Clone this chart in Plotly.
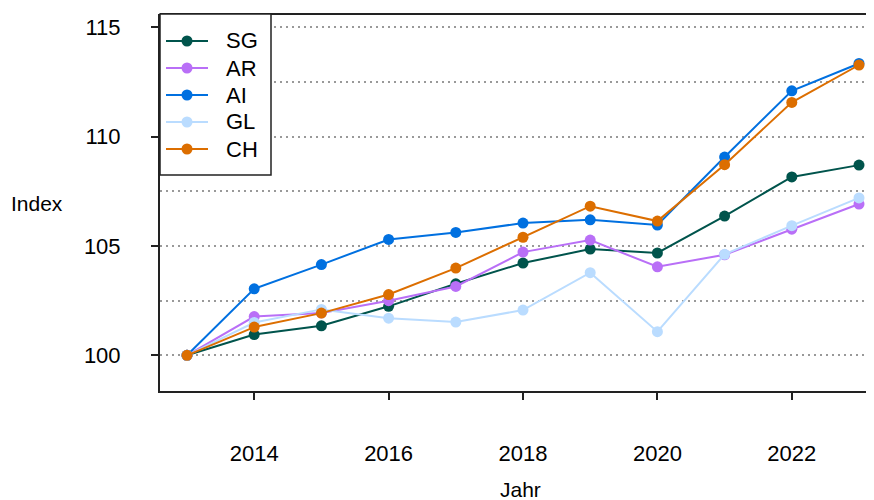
import plotly.graph_objects as go

years = [2013, 2014, 2015, 2016, 2017, 2018, 2019, 2020, 2021, 2022, 2023]
sg = [100, 100.95, 101.35, 102.24, 103.27, 104.22, 104.86, 104.68, 106.37, 108.16, 108.70]
ar = [100, 101.77, 101.94, 102.50, 103.15, 104.72, 105.27, 104.05, 104.60, 105.77, 106.92]
ai = [100, 103.04, 104.15, 105.30, 105.62, 106.05, 106.20, 105.96, 109.07, 112.10, 113.35]
gl = [100, 101.50, 102.10, 101.70, 101.52, 102.07, 103.78, 101.08, 104.62, 105.93, 107.20]
ch = [100, 101.29, 101.93, 102.78, 103.99, 105.40, 106.82, 106.14, 108.72, 111.57, 113.28]

series_names = ["SG", "AR", "AI", "GL", "CH"]
series_values = [sg, ar, ai, gl, ch]
series_colors = ["#00544C", "#B96FF7", "#0070E0", "#BADCFF", "#DC6E00"]

x_ticks = [2014, 2016, 2018, 2020, 2022]
y_ticks = [100, 105, 110, 115]

OFF = 8  # page body margin
W, H = 874, 500 - OFF
L, R, T = 160 - OFF, 0, 14 - OFF
B = H - (391 - OFF)
PW, PH = W - L - R, H - T - B
FONT = "Liberation Sans, Arial, sans-serif"
FS = 22

def px_x(px):
    return (px - OFF - L) / PW

def px_y(py):
    return (H - B - (py - OFF)) / PH

fig = go.Figure()
for name, vals, col in zip(series_names, series_values, series_colors):
    fig.add_trace(go.Scatter(
        x=years, y=vals, name=name, mode="lines+markers",
        line=dict(color=col, width=2),
        marker=dict(color=col, size=11),
        showlegend=False,
    ))

shapes = []
shapes.append(dict(type="line", xref="paper", yref="paper", x0=0, x1=1, y0=1, y1=1,
                   line=dict(color="#222", width=2)))
shapes.append(dict(type="rect", xref="paper", yref="paper",
                   x0=0, x1=px_x(271), y0=px_y(175), y1=1,
                   fillcolor="white", line=dict(color="#222", width=1.5), layer="above"))
annotations = []
leg_y0, leg_dy = 41, 27
for i, (name, col) in enumerate(zip(series_names, series_colors)):
    yc = px_y(leg_y0 + i * leg_dy)
    shapes.append(dict(type="line", xref="paper", yref="paper",
                       x0=px_x(166), x1=px_x(208), y0=yc, y1=yc,
                       line=dict(color=col, width=2), layer="above"))
    shapes.append(dict(type="circle", xref="paper", yref="paper",
                       xsizemode="pixel", ysizemode="pixel",
                       xanchor=px_x(187), yanchor=yc,
                       x0=-5.5, x1=5.5, y0=-5.5, y1=5.5,
                       fillcolor=col, line=dict(width=0), layer="above"))
    annotations.append(dict(text=name, xref="paper", yref="paper",
                            x=px_x(224), y=yc, xanchor="left", yanchor="middle",
                            showarrow=False, font=dict(size=FS, color="black", family=FONT)))

annotations.append(dict(text="Index", xref="paper", yref="paper",
                        x=px_x(9), y=px_y(203), xanchor="left", yanchor="middle",
                        showarrow=False, font=dict(size=21, color="black", family=FONT)))
annotations.append(dict(text="Jahr", xref="paper", yref="paper",
                        x=px_x(520), y=px_y(489), xanchor="center", yanchor="middle",
                        showarrow=False, font=dict(size=21, color="black", family=FONT)))

x0 = 2013 - 27 / 67.2
y0 = 100 - (391 - 355.3) / 21.86

fig.update_layout(
    width=W, height=H,
    margin=dict(l=L, r=R, t=T, b=B, pad=0),
    paper_bgcolor="white", plot_bgcolor="white",
    font=dict(family=FONT, size=FS, color="black"),
    shapes=shapes, annotations=annotations,
    showlegend=False,
    xaxis=dict(range=[x0, x0 + PW / 67.2], tickvals=x_ticks,
               ticks="outside", ticklen=7, tickwidth=2, tickcolor="#222",
               showline=True, linecolor="#222", linewidth=2,
               showgrid=False, zeroline=False, ticklabelstandoff=35,
               tickfont=dict(size=FS)),
    yaxis=dict(range=[y0, y0 + PH / 21.86], tickvals=y_ticks,
               ticks="outside", ticklen=7, tickwidth=2, tickcolor="#222",
               showline=True, linecolor="#222", linewidth=2,
               showgrid=True, gridcolor="#999", gridwidth=2, griddash="2px,4px",
               minor=dict(tick0=100, dtick=2.5, showgrid=True, gridcolor="#999",
                          gridwidth=2, griddash="2px,4px", ticks=""),
               zeroline=False, ticklabelstandoff=26,
               tickfont=dict(size=FS)),
)

fig.write_html("out.html")
